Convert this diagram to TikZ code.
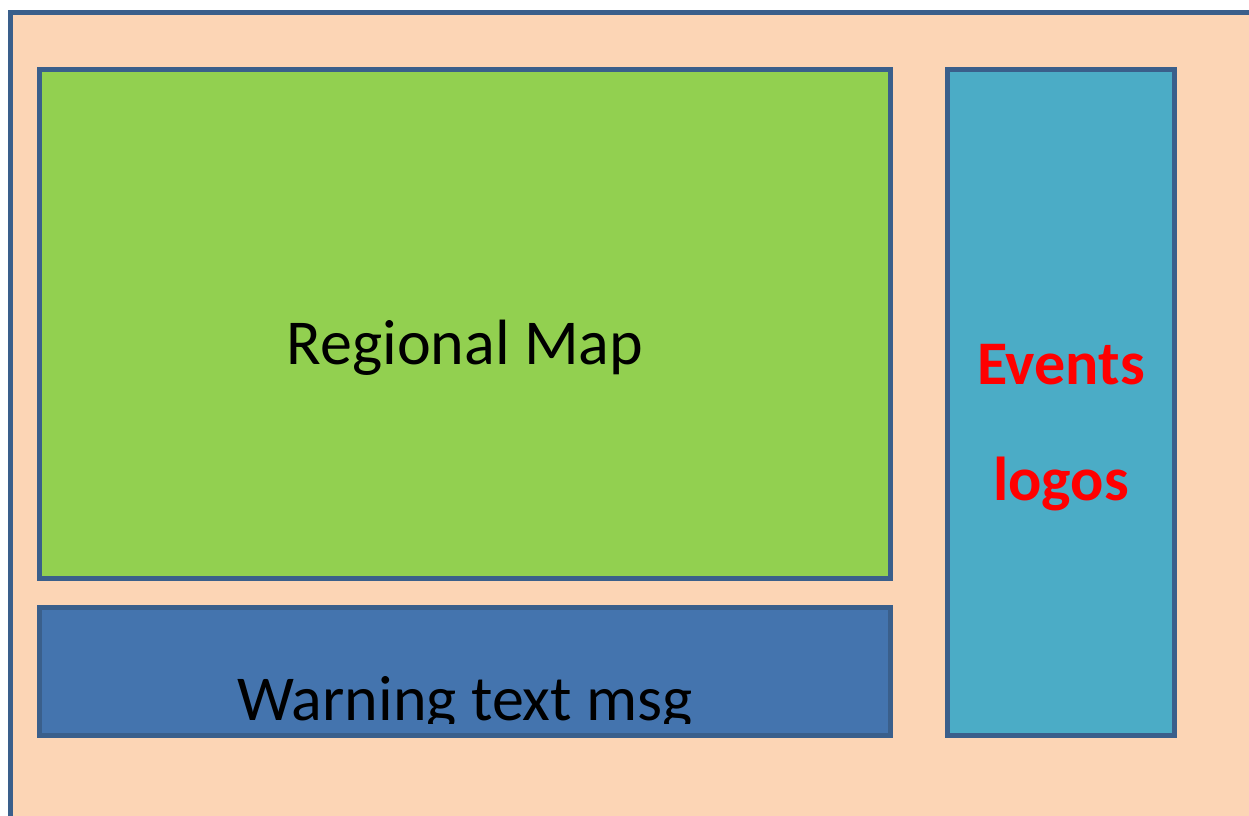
\documentclass[tikz,border=0pt]{standalone}
\usepackage{fontspec}
\setmainfont{Carlito}
\definecolor{peach}{HTML}{FCD5B5}
\definecolor{mapgreen}{HTML}{92D050}
\definecolor{warnblue}{HTML}{4474AE}
\definecolor{logoteal}{HTML}{4BACC6}
\definecolor{edgeblue}{HTML}{3A5F8B}
\tikzset{
  panel/.style={draw=edgeblue, line width=5pt, line join=miter},
  label/.style={inner sep=0pt, anchor=base, font=\fontsize{64}{70}\selectfont},
  redlabel/.style={label, text=red, font=\fontsize{62}{70}\selectfont\bfseries}
}
\begin{document}
\begin{tikzpicture}[x=1pt, y=-1pt]
  \useasboundingbox (0,0) rectangle (1249,815);
  \fill[white] (0,0) rectangle (1249,815);
  \clip (0,0) rectangle (1249,815);
  % outer frame, running off the right and bottom edges
  \draw[panel, fill=peach] (10.5,12.5) rectangle (1270,840);
  % panels
  \draw[panel, fill=mapgreen] (39.5,69.5) rectangle (890,578.5) coordinate (mapbr);
  \draw[panel, fill=warnblue] (39.5,607.5) rectangle (890,735);
  \draw[panel, fill=logoteal] (947.5,69.5) rectangle (1174,735);
  % labels
  \node[label] (map) at (465,364) {Regional Map};
  \begin{scope}
    \clip (42,610) rectangle (888,723);
    \node[label] (warn) at (465,720) {Warning text msg};
  \end{scope}
  \node[redlabel] (events) at (1061,384) {Events};
  \node[redlabel] (logos) at (1061,500) {logos};
\end{tikzpicture}
\end{document}
